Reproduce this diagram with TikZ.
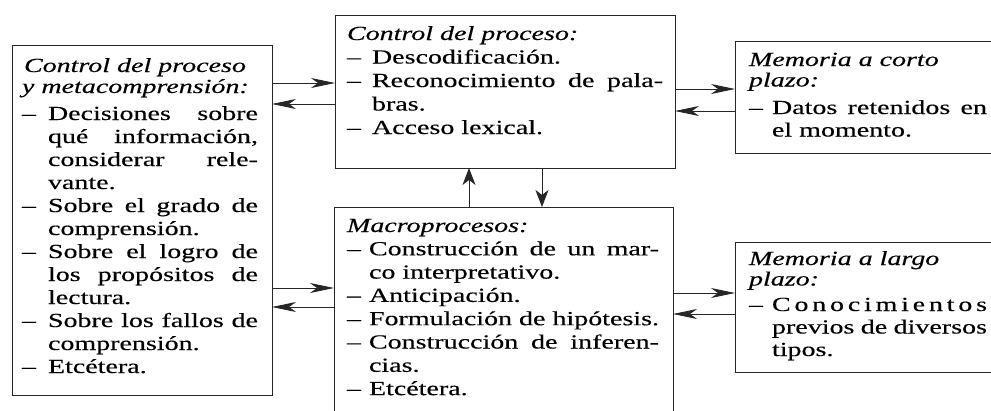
\documentclass[tikz,border=0pt]{standalone}
\usepackage{fontspec}
\setmainfont{Liberation Serif}[FakeStretch=1.40,FakeBold=0.3]
\usetikzlibrary{arrows.meta}
\newcommand\gu[1][24pt]{\makebox[#1][l]{–}}
\newcommand\jl[2]{\makebox[#1][s]{#2}}
\tikzset{
  box/.style={draw=black!85, line width=1pt, inner sep=0pt, outer sep=0pt, anchor=north west},
  txt/.style={anchor=base west, inner sep=0pt, outer sep=0pt, text=black},
  harr/.style={draw=black!85, line width=0.9pt, -{Stealth[length=24pt,width=10pt,inset=7pt]}},
  varr/.style={draw=black!85, line width=0.9pt, -{Stealth[length=17pt,width=13pt,inset=5pt]}}
}
\begin{document}
\begin{tikzpicture}[x=1pt,y=-1pt]
\path[use as bounding box, fill=white] (0,0) rectangle (991,410);

% boxes
\node[box, minimum width=260pt, minimum height=350pt] (L) at (12,45) {};
\node[box, minimum width=340pt, minimum height=153pt] (TC) at (335,15) {};
\node[box, minimum width=339pt, minimum height=215pt] (BC) at (334,207) {};
\node[box, minimum width=270pt, minimum height=112pt] (TR) at (735,41) {};
\node[box, minimum width=270pt, minimum height=130pt] (BR) at (735,242) {};

% texts
\node[txt, font=\fontsize{20pt}{23pt}\selectfont] (Lt) at (22,72) {\parbox[t]{240pt}{%
\hspace*{2pt}\textit{Control del proceso}\\[-2pt]
\textit{y metacomprensión:}\\[4pt]
\jl{236pt}{\gu[26pt]Decisiones sobre}\\
\hspace*{26pt}\jl{210pt}{qué información,}\\
\hspace*{26pt}\jl{210pt}{considerar rele-}\\
\hspace*{26pt}vante.\\
\jl{236pt}{\gu[26pt]Sobre el grado de}\\
\hspace*{26pt}comprensión.\\
\jl{236pt}{\gu[26pt]Sobre el logro de}\\
\hspace*{26pt}\jl{210pt}{los propósitos de}\\
\hspace*{26pt}lectura.\\
\jl{236pt}{\gu[26pt]Sobre los fallos de}\\
\hspace*{26pt}comprensión.\\
\gu[26pt]Etcétera.}};

\node[txt, font=\fontsize{20pt}{23.5pt}\selectfont] (TCt) at (347,40) {\parbox[t]{320pt}{%
\textit{Control del proceso:}\\
\gu[25pt]Descodificación.\\
\jl{316pt}{\gu[25pt]Reconocimiento de pala-}\\
\hspace*{25pt}bras.\\
\gu[25pt]Acceso lexical.}};

\node[txt, font=\fontsize{20pt}{23.3pt}\selectfont] (BCt) at (347,232) {\parbox[t]{316pt}{%
\textit{Macroprocesos:}\\
\jl{312pt}{\gu[22pt]Construcción de un mar-}\\
\hspace*{22pt}co interpretativo.\\
\gu[22pt]Anticipación.\\
\jl{312pt}{\gu[22pt]Formulación de hipótesis.}\\
\jl{312pt}{\gu[22pt]Construcción de inferen-}\\
\hspace*{22pt}cias.\\
\gu[22pt]Etcétera.}};

\node[txt, font=\fontsize{20pt}{22.5pt}\selectfont] (TRt) at (749,66) {\parbox[t]{240pt}{%
\textit{Memoria a corto}\\[-2pt]
\textit{plazo:}\\[5pt]
\jl{238pt}{\gu[23pt]Datos retenidos en}\\
\hspace*{23pt}el momento.}};

\node[txt, font=\fontsize{20pt}{22.5pt}\selectfont] (BRt) at (749,265) {\parbox[t]{240pt}{%
\textit{Memoria a largo}\\[-2pt]
\textit{plazo:}\\[3pt]
\makebox[238pt][s]{\gu[23pt]C\hfill o\hfill n\hfill o\hfill c\hfill i\hfill m\hfill i\hfill e\hfill n\hfill t\hfill o\hfill s}\\
\hspace*{23pt}\jl{215pt}{previos de diversos}\\
\hspace*{23pt}tipos.}};

% connectors
\draw[harr] (L.east |- 0,83) -- (TC.west |- 0,83);
\draw[harr] (TC.west |- 0,104) -- (L.east |- 0,104);
\draw[harr] (L.east |- 0,288) -- (BC.west |- 0,288);
\draw[harr] (BC.west |- 0,307) -- (L.east |- 0,307);
\draw[harr] (TC.east |- 0,89) -- (TR.west |- 0,89);
\draw[harr] (TR.west |- 0,111) -- (TC.east |- 0,111);
\draw[harr] (BC.east |- 0,293) -- (BR.west |- 0,293);
\draw[harr] (BR.west |- 0,314) -- (BC.east |- 0,314);
\draw[varr] (BC.north -| 469,0) -- (TC.south -| 469,0);
\draw[varr] (TC.south -| 542,0) -- (BC.north -| 542,0);
\end{tikzpicture}
\end{document}
